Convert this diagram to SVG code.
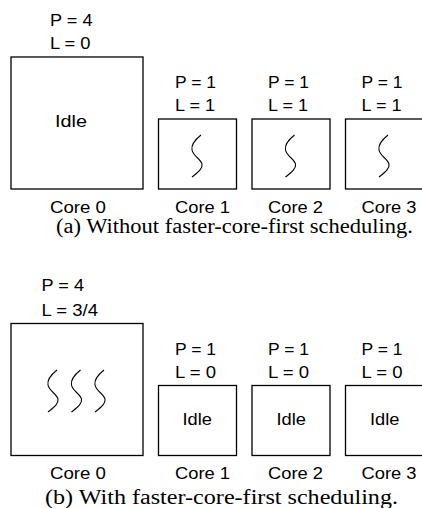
<svg xmlns="http://www.w3.org/2000/svg" xmlns:xlink="http://www.w3.org/1999/xlink" width="422" height="508" viewBox="0 0 422 508">
<style>
.box{fill:#fff;stroke:#000;stroke-width:1.3}
.t{font-family:"Liberation Sans",Arial,sans-serif;font-size:16.5px;fill:#000}
.cap{font-family:"Liberation Serif","Times New Roman",serif;font-size:20px;fill:#000}
.sq{fill:none;stroke:#000;stroke-width:1.1}
</style>
<defs>
<path id="squig" class="sq" d="M0,0 C-5,4 -10,10 -9,15 C-8,21 0,24 1,29 C2,34 -4,38 -9,42"/>
</defs>
<rect width="422" height="508" fill="#fff"/>
<g id="a-core0">
<text class="t" x="50" y="26" textLength="42.5" lengthAdjust="spacingAndGlyphs">P = 4</text>
<text class="t" x="50" y="49" textLength="40.5" lengthAdjust="spacingAndGlyphs">L = 0</text>
<rect class="box" x="11" y="57" width="132" height="132"/>
<text class="t" x="55" y="127" textLength="32" lengthAdjust="spacingAndGlyphs">Idle</text>
<text class="t" x="50" y="213" textLength="56" lengthAdjust="spacingAndGlyphs">Core 0</text>
</g>
<g id="a-core1">
<text class="t" x="175" y="88" textLength="41" lengthAdjust="spacingAndGlyphs">P = 1</text>
<text class="t" x="175" y="111" textLength="40" lengthAdjust="spacingAndGlyphs">L = 1</text>
<rect class="box" x="158.5" y="119" width="78" height="70"/>
<use xlink:href="#squig" x="201" y="135"/>
<text class="t" x="175" y="213" textLength="55" lengthAdjust="spacingAndGlyphs">Core 1</text>
</g>
<g id="a-core2">
<text class="t" x="268" y="88" textLength="41" lengthAdjust="spacingAndGlyphs">P = 1</text>
<text class="t" x="268" y="111" textLength="40" lengthAdjust="spacingAndGlyphs">L = 1</text>
<rect class="box" x="252" y="119" width="78" height="70"/>
<use xlink:href="#squig" x="294.5" y="135"/>
<text class="t" x="268" y="213" textLength="55" lengthAdjust="spacingAndGlyphs">Core 2</text>
</g>
<g id="a-core3">
<text class="t" x="361.5" y="88" textLength="41" lengthAdjust="spacingAndGlyphs">P = 1</text>
<text class="t" x="361.5" y="111" textLength="40" lengthAdjust="spacingAndGlyphs">L = 1</text>
<rect class="box" x="345.5" y="119" width="78" height="70"/>
<use xlink:href="#squig" x="388" y="135"/>
<text class="t" x="361.5" y="213" textLength="55" lengthAdjust="spacingAndGlyphs">Core 3</text>
</g>
<text class="cap" x="56" y="233" textLength="357" lengthAdjust="spacingAndGlyphs">(a) Without faster-core-first scheduling.</text>
<g id="b-core0">
<text class="t" x="41.5" y="290.5" textLength="42.5" lengthAdjust="spacingAndGlyphs">P = 4</text>
<text class="t" x="41.5" y="315.5" textLength="56.5" lengthAdjust="spacingAndGlyphs">L = 3/4</text>
<rect class="box" x="11" y="323.5" width="132" height="132"/>
<use xlink:href="#squig" x="57" y="370"/>
<use xlink:href="#squig" x="80.5" y="370"/>
<use xlink:href="#squig" x="104" y="370"/>
<text class="t" x="50" y="479" textLength="56" lengthAdjust="spacingAndGlyphs">Core 0</text>
</g>
<g id="b-core1">
<text class="t" x="175" y="354.5" textLength="41" lengthAdjust="spacingAndGlyphs">P = 1</text>
<text class="t" x="175" y="377.5" textLength="41" lengthAdjust="spacingAndGlyphs">L = 0</text>
<rect class="box" x="158.5" y="385.5" width="78" height="70"/>
<text class="t" x="182.5" y="424.5" textLength="29.5" lengthAdjust="spacingAndGlyphs">Idle</text>
<text class="t" x="175" y="479" textLength="55" lengthAdjust="spacingAndGlyphs">Core 1</text>
</g>
<g id="b-core2">
<text class="t" x="268" y="354.5" textLength="41" lengthAdjust="spacingAndGlyphs">P = 1</text>
<text class="t" x="268" y="377.5" textLength="41" lengthAdjust="spacingAndGlyphs">L = 0</text>
<rect class="box" x="252" y="385.5" width="78" height="70"/>
<text class="t" x="276.5" y="424.5" textLength="29.5" lengthAdjust="spacingAndGlyphs">Idle</text>
<text class="t" x="268" y="479" textLength="55" lengthAdjust="spacingAndGlyphs">Core 2</text>
</g>
<g id="b-core3">
<text class="t" x="361.5" y="354.5" textLength="41" lengthAdjust="spacingAndGlyphs">P = 1</text>
<text class="t" x="361.5" y="377.5" textLength="41" lengthAdjust="spacingAndGlyphs">L = 0</text>
<rect class="box" x="345.5" y="385.5" width="78" height="70"/>
<text class="t" x="370" y="424.5" textLength="29.5" lengthAdjust="spacingAndGlyphs">Idle</text>
<text class="t" x="361.5" y="479" textLength="55" lengthAdjust="spacingAndGlyphs">Core 3</text>
</g>
<text class="cap" x="45" y="503.5" textLength="353" lengthAdjust="spacingAndGlyphs">(b) With faster-core-first scheduling.</text>
<g id="connectors"/>
</svg>
